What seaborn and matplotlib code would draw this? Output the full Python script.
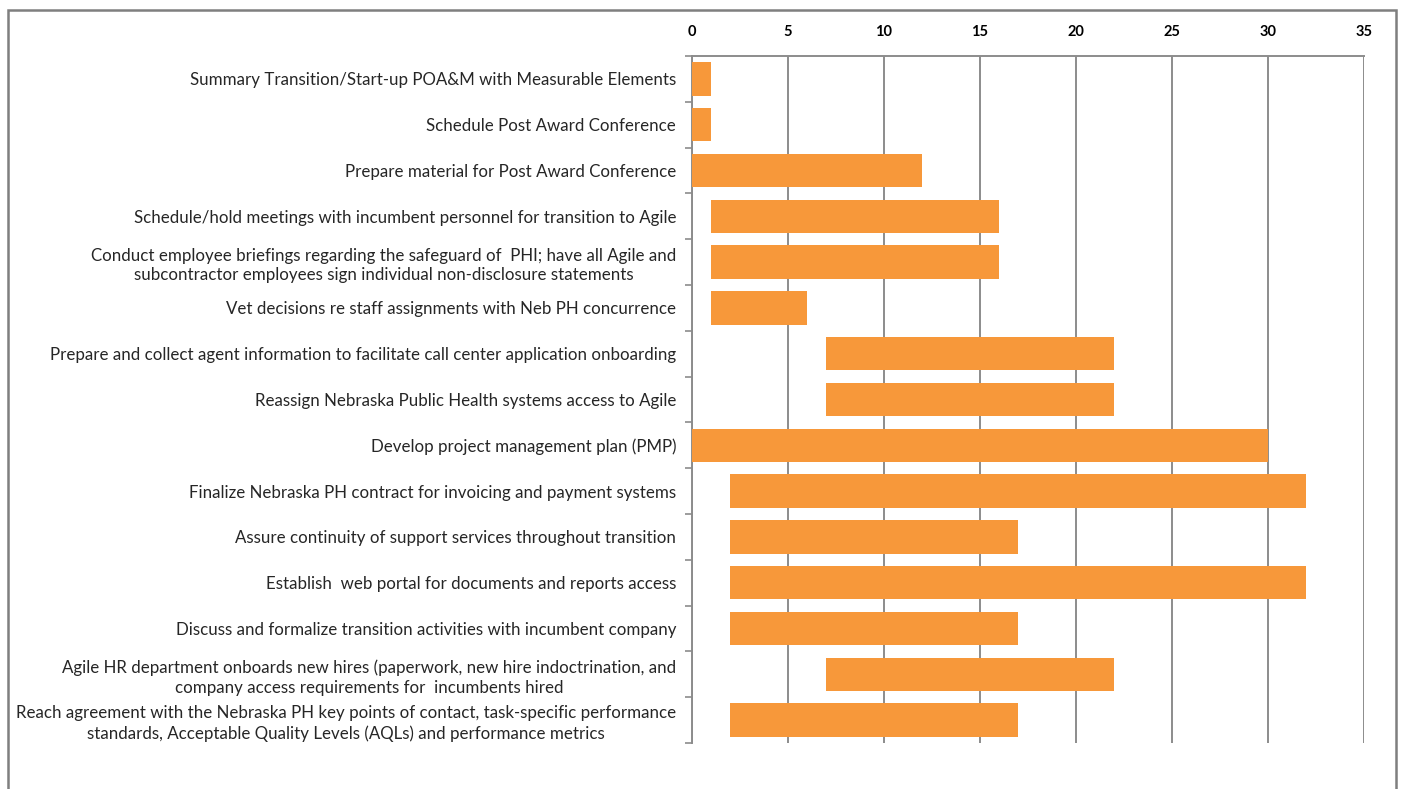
import matplotlib
matplotlib.use("Agg")
import matplotlib.pyplot as plt
import seaborn as sns
import pandas as pd
import numpy as np
from matplotlib.patches import Rectangle
from matplotlib.ticker import FixedLocator

tasks = [
    "Summary Transition/Start-up POA&M with Measurable Elements",
    "Schedule Post Award Conference",
    "Prepare material for Post Award Conference",
    "Schedule/hold meetings with incumbent personnel for transition to Agile",
    "Conduct employee briefings regarding the safeguard of  PHI; have all Agile and\nsubcontractor employees sign individual non-disclosure statements",
    "Vet decisions re staff assignments with Neb PH concurrence",
    "Prepare and collect agent information to facilitate call center application onboarding",
    "Reassign Nebraska Public Health systems access to Agile",
    "Develop project management plan (PMP)",
    "Finalize Nebraska PH contract for invoicing and payment systems",
    "Assure continuity of support services throughout transition",
    "Establish  web portal for documents and reports access",
    "Discuss and formalize transition activities with incumbent company",
    "Agile HR department onboards new hires (paperwork, new hire indoctrination, and\ncompany access requirements for  incumbents hired",
    "Reach agreement with the Nebraska PH key points of contact, task-specific performance\nstandards, Acceptable Quality Levels (AQLs) and performance metrics",
]
start = [0, 0, 0, 1, 1, 1, 7, 7, 0, 2, 2, 2, 2, 7, 2]
end = [1, 1, 12, 16, 16, 6, 22, 22, 30, 32, 17, 32, 17, 22, 17]
x_ticks = [0, 5, 10, 15, 20, 25, 30, 35]

duration = [e - s for s, e in zip(start, end)]
df = pd.DataFrame({"task": tasks, "start": start, "duration": duration})

sns.set_theme(style="white")
plt.rcParams["font.family"] = ["Lato", "DejaVu Sans"]

fig = plt.figure(figsize=(14.03, 7.89), dpi=100)
ax = fig.add_axes([692 / 1403, 1 - 743 / 789, (1364 - 692) / 1403, (743 - 56) / 789])

sns.barplot(data=df, x="duration", y="task", order=tasks, orient="h",
            color="#F7983A", saturation=1, width=0.73, ax=ax,
            left=df["start"].to_numpy(), edgecolor="none", zorder=3)

ax.set_xlim(0, 35)
ax.set_ylim(len(tasks) - 0.5, -0.5)
ax.xaxis.set_major_locator(FixedLocator(x_ticks))
ax.xaxis.tick_top()
ax.xaxis.set_label_position("top")
ax.set_xlabel("")
ax.set_ylabel("")
ax.grid(axis="x", color="#8c8c8c", linewidth=1.4, zorder=0)
ax.set_axisbelow(True)
ax.tick_params(axis="x", which="major", top=True, bottom=False, length=0,
               labelsize=10.5, pad=12, colors="black")
for lbl in ax.get_xticklabels():
    lbl.set_fontweight("bold")
ax.tick_params(axis="y", which="major", left=False, length=0, labelsize=12.2, pad=11.5)
ax.yaxis.set_minor_locator(FixedLocator(np.arange(-0.5, len(tasks), 1.0)))
ax.tick_params(axis="y", which="minor", left=True, length=5, width=1.2, color="#8c8c8c")
for lbl in ax.get_yticklabels():
    lbl.set_multialignment("center")
    lbl.set_linespacing(1.3)

for side in ["bottom", "right"]:
    ax.spines[side].set_visible(False)
for side in ["top", "left"]:
    ax.spines[side].set_visible(True)
    ax.spines[side].set_color("#8c8c8c")
    ax.spines[side].set_linewidth(1.4)

frame = Rectangle((8 / 1403, -0.05), (1396 - 8) / 1403, 1 - 10 / 789 + 0.05,
                  transform=fig.transFigure, fill=False, edgecolor="#7f7f7f",
                  linewidth=1.8, clip_on=False)
fig.patches.append(frame)

fig.savefig("out.png", dpi=100, facecolor="white")
